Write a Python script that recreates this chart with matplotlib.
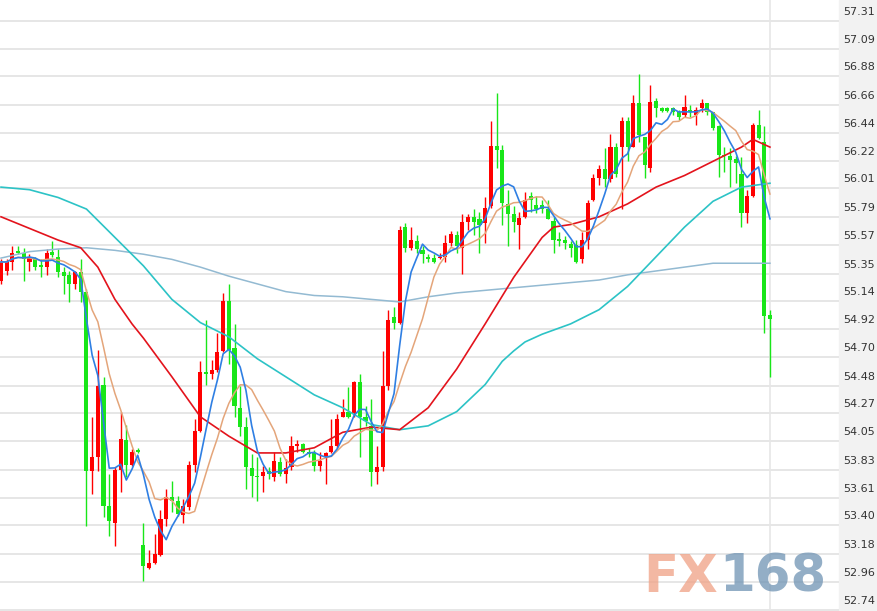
import matplotlib
matplotlib.use("Agg")
import matplotlib.pyplot as plt
import matplotlib.transforms as mtransforms
from matplotlib.patches import Rectangle
import numpy as np
import pandas as pd

# K线数据 (开, 高, 低, 收)
opens = [55.29, 55.37, 55.44, 55.52, 55.51, 55.44, 55.47, 55.42, 55.40, 55.52,
         55.48, 55.36, 55.34, 55.27, 55.36, 55.21, 53.82, 53.93, 54.49, 53.55,
         53.42, 53.83, 54.06, 53.87, 53.98, 53.25, 53.07, 53.11, 53.17, 53.45,
         53.62, 53.59, 53.48, 53.54, 53.87, 54.13, 54.59, 54.57, 54.60, 54.75,
         55.14, 54.77, 54.31, 54.16, 53.84, 53.78, 53.78, 53.82, 53.77, 53.89,
         53.80, 53.85, 54.01, 54.03, 53.97, 53.96, 53.86, 53.93, 53.97, 54.01,
         54.24, 54.28, 54.27, 54.51, 54.24, 54.17, 53.81, 53.85, 54.48, 55.01,
         54.97, 55.71, 55.55, 55.60, 55.53, 55.48, 55.47, 55.47, 55.48, 55.59,
         55.65, 55.55, 55.75, 55.79, 55.77, 55.74, 55.87, 56.34, 56.31, 55.89,
         55.81, 55.73, 55.79, 55.95, 55.88, 55.88, 55.85, 55.76, 55.62, 55.61,
         55.58, 55.57, 55.46, 55.61, 55.92, 56.09, 56.16, 56.08, 56.33, 56.33,
         56.53, 56.33, 56.67, 56.41, 56.17, 56.69, 56.63, 56.63, 56.63, 56.60,
         56.58, 56.62, 56.58, 56.63, 56.67, 56.60, 56.49, 56.27, 56.26, 56.24,
         56.12, 55.82, 55.95, 56.50, 56.37, 55.03]
highs = [55.46, 55.46, 55.56, 55.56, 55.55, 55.50, 55.48, 55.46, 55.54, 55.60,
         55.54, 55.40, 55.37, 55.37, 55.46, 55.23, 54.24, 54.76, 54.55, 53.80,
         53.85, 54.28, 54.18, 53.99, 54.00, 53.42, 53.21, 53.33, 53.52, 53.68,
         53.74, 53.63, 53.60, 53.90, 54.22, 54.67, 54.99, 54.68, 54.89, 55.20,
         55.27, 54.96, 54.48, 54.24, 53.95, 53.93, 53.86, 53.85, 53.97, 53.93,
         53.91, 54.09, 54.06, 54.04, 54.00, 53.98, 53.97, 53.97, 54.22, 54.26,
         54.38, 54.47, 54.52, 54.57, 54.32, 54.38, 54.01, 54.75, 55.07, 55.09,
         55.72, 55.74, 55.71, 55.65, 55.56, 55.50, 55.50, 55.51, 55.65, 55.68,
         55.68, 55.81, 55.81, 55.85, 55.83, 55.94, 56.53, 56.75, 56.35, 56.00,
         55.87, 55.83, 55.98, 55.98, 55.95, 55.92, 55.92, 55.79, 55.67, 55.64,
         55.60, 55.61, 55.67, 55.92, 56.12, 56.19, 56.32, 56.43, 56.36, 56.56,
         56.56, 56.73, 56.90, 56.41, 56.81, 56.71, 56.64, 56.64, 56.64, 56.62,
         56.73, 56.66, 56.64, 56.70, 56.67, 56.60, 56.50, 56.33, 56.32, 56.26,
         56.25, 56.00, 56.52, 56.62, 56.49, 55.07]
lows = [55.27, 55.34, 55.38, 55.50, 55.29, 55.37, 55.38, 55.32, 55.34, 55.48,
        55.32, 55.19, 55.13, 55.23, 55.13, 53.39, 53.64, 53.82, 53.46, 53.32,
        53.24, 53.66, 53.77, 53.86, 53.96, 52.97, 53.06, 53.10, 53.16, 53.39,
        53.50, 53.47, 53.42, 53.52, 53.81, 54.12, 54.49, 54.53, 54.59, 54.74,
        54.65, 54.24, 54.09, 53.68, 53.62, 53.59, 53.66, 53.76, 53.74, 53.78,
        53.73, 53.83, 53.97, 53.96, 53.93, 53.82, 53.82, 53.72, 53.96, 54.00,
        54.24, 54.23, 54.24, 53.93, 54.17, 53.70, 53.72, 53.82, 54.45, 54.92,
        54.96, 55.52, 55.53, 55.51, 55.43, 55.44, 55.43, 55.46, 55.44, 55.56,
        55.51, 55.35, 55.69, 55.65, 55.51, 55.59, 55.86, 56.17, 55.73, 55.56,
        55.67, 55.54, 55.78, 55.83, 55.82, 55.82, 55.77, 55.51, 55.56, 55.54,
        55.48, 55.43, 55.43, 55.54, 55.91, 56.04, 56.02, 56.06, 56.10, 55.85,
        56.22, 56.33, 56.37, 56.09, 56.14, 56.56, 56.60, 56.60, 56.58, 56.54,
        56.56, 56.56, 56.50, 56.60, 56.58, 56.46, 56.10, 56.14, 56.02, 56.05,
        55.71, 55.74, 55.94, 56.39, 54.89, 54.55]
closes = [55.44, 55.44, 55.51, 55.51, 55.46, 55.47, 55.40, 55.40, 55.51, 55.49,
          55.36, 55.33, 55.27, 55.36, 55.21, 53.82, 53.93, 54.48, 53.55, 53.43,
          53.83, 54.07, 53.87, 53.97, 53.97, 53.08, 53.11, 53.18, 53.45, 53.62,
          53.59, 53.49, 53.55, 53.87, 54.13, 54.59, 54.57, 54.60, 54.74, 55.14,
          54.76, 54.32, 54.16, 53.85, 53.78, 53.77, 53.81, 53.80, 53.90, 53.80,
          53.84, 54.01, 54.03, 53.97, 53.95, 53.86, 53.90, 53.96, 54.01, 54.22,
          54.28, 54.24, 54.51, 54.24, 54.21, 53.81, 53.85, 54.48, 54.99, 54.97,
          55.69, 55.55, 55.61, 55.54, 55.50, 55.46, 55.44, 55.48, 55.59, 55.66,
          55.56, 55.75, 55.79, 55.75, 55.73, 55.86, 56.34, 56.31, 55.90, 55.81,
          55.75, 55.78, 55.92, 55.92, 55.85, 55.85, 55.77, 55.61, 55.60, 55.59,
          55.55, 55.44, 55.61, 55.90, 56.09, 56.16, 56.08, 56.33, 56.12, 56.53,
          56.33, 56.67, 56.42, 56.19, 56.68, 56.63, 56.61, 56.61, 56.60, 56.56,
          56.64, 56.60, 56.62, 56.67, 56.60, 56.48, 56.27, 56.26, 56.23, 56.21,
          55.82, 55.95, 56.50, 56.40, 55.02, 55.00]

# 长周期均线 (读图取点)
red_idx = [0, 5, 10, 14, 17, 20, 23, 25, 30, 35, 40, 45, 50, 55, 60, 65, 70,
           75, 80, 85, 90, 95, 97, 100, 105, 110, 115, 120, 125, 130, 132, 135]
ma_red = [55.79, 55.70, 55.61, 55.55, 55.40, 55.15, 54.96, 54.85, 54.55, 54.24,
          54.09, 53.96, 53.96, 54.00, 54.12, 54.16, 54.14, 54.31, 54.61, 54.96,
          55.32, 55.63, 55.71, 55.73, 55.79, 55.89, 56.02, 56.11, 56.22, 56.33,
          56.39, 56.33]
cyan_idx = [0, 5, 10, 15, 20, 25, 30, 35, 40, 45, 50, 55, 60, 65, 70, 75, 80,
            85, 88, 90, 92, 95, 100, 105, 110, 115, 120, 125, 130, 135]
ma_cyan = [56.02, 56.00, 55.94, 55.85, 55.63, 55.41, 55.15, 54.97, 54.86, 54.69,
           54.55, 54.41, 54.31, 54.18, 54.14, 54.17, 54.28, 54.49, 54.67, 54.75,
           54.82, 54.88, 54.96, 55.07, 55.25, 55.48, 55.71, 55.91, 56.02, 56.05]
gray_idx = [0, 5, 10, 15, 20, 25, 30, 35, 40, 45, 50, 55, 60, 65, 70, 75, 80,
            85, 90, 95, 100, 105, 110, 115, 120, 125, 130, 135]
ma_gray = [55.47, 55.52, 55.54, 55.55, 55.53, 55.50, 55.46, 55.40, 55.33, 55.27,
           55.21, 55.18, 55.17, 55.15, 55.13, 55.17, 55.20, 55.22, 55.24, 55.26,
           55.28, 55.30, 55.34, 55.37, 55.40, 55.43, 55.43, 55.43]

ytick_labels = ["57.31", "57.09", "56.88", "56.66", "56.44", "56.22", "56.01",
                "55.79", "55.57", "55.35", "55.14", "54.92", "54.70", "54.48",
                "54.27", "54.05", "53.83", "53.61", "53.40", "53.18", "52.96",
                "52.74"]

W, H = 878, 611
fig = plt.figure(figsize=(W / 100, H / 100), dpi=100)
plot_right = 839 / W
ax = fig.add_axes([0, 0, plot_right, 1])
fig.patches.append(Rectangle((plot_right, 0), 1 - plot_right, 1,
                             transform=fig.transFigure, color="#f2f2f2", zorder=-5))

n = len(closes)
x = np.arange(n)
o = np.array(opens)
c = np.array(closes)
up = c >= o
col = np.where(up, "#ff0000", "#19e619")

# 网格
yvals = [float(s) for s in ytick_labels]
ax.hlines(yvals, -1, n + 20, colors="#e6e6e6", linewidth=1.4, zorder=0)
ax.axvline(n - 1, color="#e6e6e6", linewidth=1.2, zorder=0)

# K线
ax.vlines(x, lows, highs, colors=col, linewidth=1.0, zorder=2)
body = np.maximum(np.abs(c - o), 0.012)
ax.bar(x, body, bottom=np.minimum(o, c), width=0.72, color=col,
       linewidth=0, zorder=3)

# 均线
s = pd.Series(closes)
ma5 = s.rolling(5, min_periods=1).mean()
ma10 = s.rolling(10, min_periods=1).mean()
ax.plot(gray_idx, ma_gray, color="#93bad2", lw=1.1, zorder=4)
ax.plot(cyan_idx, ma_cyan, color="#2cc3c6", lw=1.2, zorder=4)
ax.plot(red_idx, ma_red, color="#e3131c", lw=1.2, zorder=4)
ax.plot(x, ma10, color="#e4a57a", lw=1.1, zorder=5)
ax.plot(x, ma5, color="#2f7fe3", lw=1.2, zorder=6)

ax.set_xlim(-1 / 5.696, 838 / 5.696)
ax.set_ylim(52.735, 57.47)
ax.axis("off")

# 右侧价格刻度
trans = mtransforms.blended_transform_factory(ax.transAxes, ax.transData)
trans = mtransforms.offset_copy(trans, fig=fig, x=0, y=9, units="dots")
for v, lab in zip(yvals, ytick_labels):
    ax.text(843 / 839, v, lab, transform=trans, ha="left", va="center",
            fontsize=8, color="#333333", clip_on=False,
            family="DejaVu Sans")

# 水印
fig.text(718 / W, (H - 578) / H, "FX", ha="right", va="center", fontsize=37,
         fontweight="bold", color="#f0a185", alpha=0.75)
fig.text(719 / W, (H - 578) / H, "168", ha="left", va="center", fontsize=37,
         fontweight="bold", color="#6f93b4", alpha=0.75)

fig.savefig("out.png", dpi=100)
